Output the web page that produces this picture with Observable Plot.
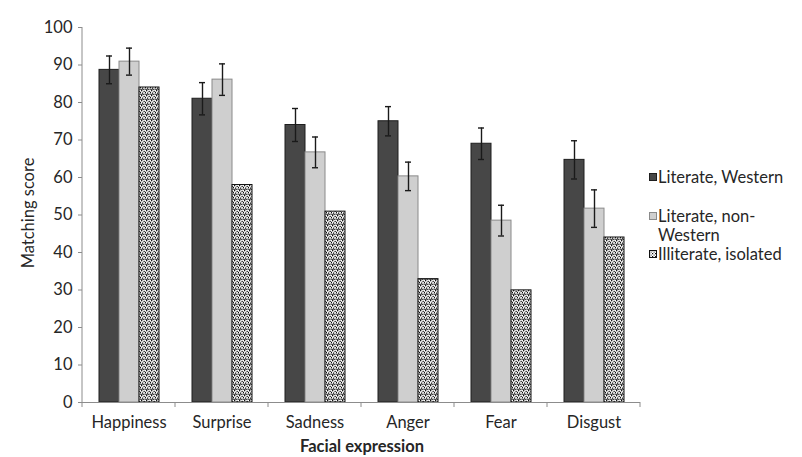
<!DOCTYPE html>
<html>
<head>
<meta charset="utf-8">
<script src="https://cdn.jsdelivr.net/npm/d3@7"></script>
<script src="https://cdn.jsdelivr.net/npm/@observablehq/plot@0.6"></script>
<style>
  html, body { margin: 0; padding: 0; background: #fff; }
  #wrap { position: relative; width: 802px; height: 457px; font-family: Lato, "Open Sans", sans-serif; color: #262626; }
  #ylab { position: absolute; left: 28px; top: 213px; transform: translate(-50%, -50%) rotate(-90deg); font-size: 16.5px; white-space: nowrap; }
  #xlab { position: absolute; left: 362px; top: 446px; transform: translate(-50%, -50%); font-size: 16.5px; font-weight: bold; white-space: nowrap; }
  #legend { position: absolute; left: 649px; top: 0; font-size: 16.5px; }
  .item { position: absolute; left: 0; display: flex; align-items: flex-start; white-space: nowrap; line-height: 19px; }
  .item svg { flex: none; margin-right: 1px; margin-top: 5.5px; }
</style>
</head>
<body>
<div id="wrap">
  <div id="chart"></div>
  <div id="ylab">Matching score</div>
  <div id="xlab">Facial expression</div>
  <div id="legend"></div>
</div>
<script>
// ---- data ----
const categories = ["Happiness", "Surprise", "Sadness", "Anger", "Fear", "Disgust"];
const seriesNames = ["Literate, Western", "Literate, non-Western", "Illiterate, isolated"];
const western = [88.7, 81.0, 74.0, 75.0, 69.0, 64.7];
const westernErr = [3.7, 4.3, 4.4, 3.9, 4.2, 5.1];
const nonWestern = [90.9, 86.1, 66.7, 60.3, 48.5, 51.7];
const nonWesternErr = [3.6, 4.2, 4.1, 3.8, 4.1, 5.0];
const illiterate = [84.0, 58.0, 50.9, 32.9, 29.9, 44.0];
const yTicks = [0, 10, 20, 30, 40, 50, 60, 70, 80, 90, 100];

// ---- table ----
const rows = [];
categories.forEach((c, i) => {
  rows.push({category: c, series: seriesNames[0], value: western[i], err: westernErr[i]});
  rows.push({category: c, series: seriesNames[1], value: nonWestern[i], err: nonWesternErr[i]});
  rows.push({category: c, series: seriesNames[2], value: illiterate[i], err: null});
});
const withErr = rows.filter(d => d.err != null);
const styles = [
  {fill: "#474747", stroke: "#1e1e1e"},
  {fill: "#cfcfcf", stroke: "#8a8a8a"},
  {fill: "url(#dots)", stroke: "#111"}
];

const plot = Plot.plot({
  width: 802,
  height: 457,
  marginLeft: 81,
  marginRight: 161,
  marginTop: 27,
  marginBottom: 55,
  style: {fontFamily: "Lato, 'Open Sans', sans-serif", fontSize: "16.5px", color: "#262626", background: "white"},
  fx: {domain: categories, paddingInner: 0, paddingOuter: 0, label: null},
  x: {domain: seriesNames, paddingInner: 0, paddingOuter: 0.75, axis: null},
  y: {domain: [0, 100], label: null},
  marks: [
    ...seriesNames.map((s, k) => Plot.barY(rows.filter(d => d.series === s), {
      fx: "category", x: "series", y: "value",
      fill: styles[k].fill, stroke: styles[k].stroke, strokeWidth: 1
    })),
    Plot.ruleX(withErr, {fx: "category", x: "series", y1: d => d.value - d.err, y2: d => d.value + d.err, stroke: "#1a1a1a", strokeWidth: 1.4}),
    Plot.tickY(withErr, {fx: "category", x: "series", y: d => d.value + d.err, stroke: "#1a1a1a", strokeWidth: 1.4, insetLeft: 7, insetRight: 7}),
    Plot.tickY(withErr, {fx: "category", x: "series", y: d => d.value - d.err, stroke: "#1a1a1a", strokeWidth: 1.4, insetLeft: 7, insetRight: 7}),
    Plot.ruleY([0], {stroke: "#8c8c8c", strokeWidth: 1}),
    Plot.axisY(yTicks, {tickSize: 4, tickPadding: 6, stroke: "#8c8c8c", fill: "#262626", label: null}),
    Plot.axisFx({anchor: "bottom", tickSize: 0, tickPadding: 14, fill: "#262626", label: null})
  ]
});

// pattern for the isolated group
const svg = d3.select(plot);
const defs = svg.insert("defs", ":first-child");
const pat = defs.append("pattern").attr("id", "dots").attr("patternUnits", "userSpaceOnUse")
  .attr("width", 5).attr("height", 5);
pat.append("rect").attr("width", 5).attr("height", 5).attr("fill", "#fff");
[[0,0],[2.5,0.8],[1,2.5],[3.5,3.5],[4,1.8],[1.8,4.2],[0.2,3.8]].forEach(([x, y]) =>
  pat.append("rect").attr("x", x).attr("y", y).attr("width", 1.3).attr("height", 1.3).attr("fill", "#111"));

// axis line and category-boundary ticks from the library's scales
const ys = plot.scale("y");
const fxs = plot.scale("fx");
const y0 = ys.apply(0), y100 = ys.apply(100);
const left = fxs.apply(categories[0]);
svg.append("line").attr("x1", left).attr("x2", left).attr("y1", y100).attr("y2", y0)
  .attr("stroke", "#8c8c8c");
const edges = categories.map(c => fxs.apply(c));
edges.push(fxs.apply(categories[categories.length - 1]) + fxs.bandwidth);
edges.forEach(x => svg.append("line").attr("x1", x).attr("x2", x).attr("y1", y0).attr("y2", y0 + 5)
  .attr("stroke", "#8c8c8c"));

document.getElementById("chart").appendChild(plot);

// legend
const legendRows = [
  {label: "Literate, Western", top: 167.5},
  {label: "Literate, non-<br>Western", top: 206.5},
  {label: "Illiterate, isolated", top: 244.5}
];
const legend = document.getElementById("legend");
legendRows.forEach((r, k) => {
  const item = document.createElement("div");
  item.className = "item";
  item.style.top = r.top + "px";
  item.innerHTML = `<svg width="8" height="8"><defs><pattern id="ldots${k}" patternUnits="userSpaceOnUse" width="3" height="3"><rect width="3" height="3" fill="#fff"/><rect width="1.2" height="1.2" fill="#111"/><rect x="1.6" y="1.6" width="1" height="1" fill="#111"/></pattern></defs><rect x="0.5" y="0.5" width="7" height="7" fill="${k === 2 ? `url(#ldots${k})` : styles[k].fill}" stroke="${styles[k].stroke}"/></svg><span>${r.label}</span>`;
  legend.appendChild(item);
});
</script>
</body>
</html>
